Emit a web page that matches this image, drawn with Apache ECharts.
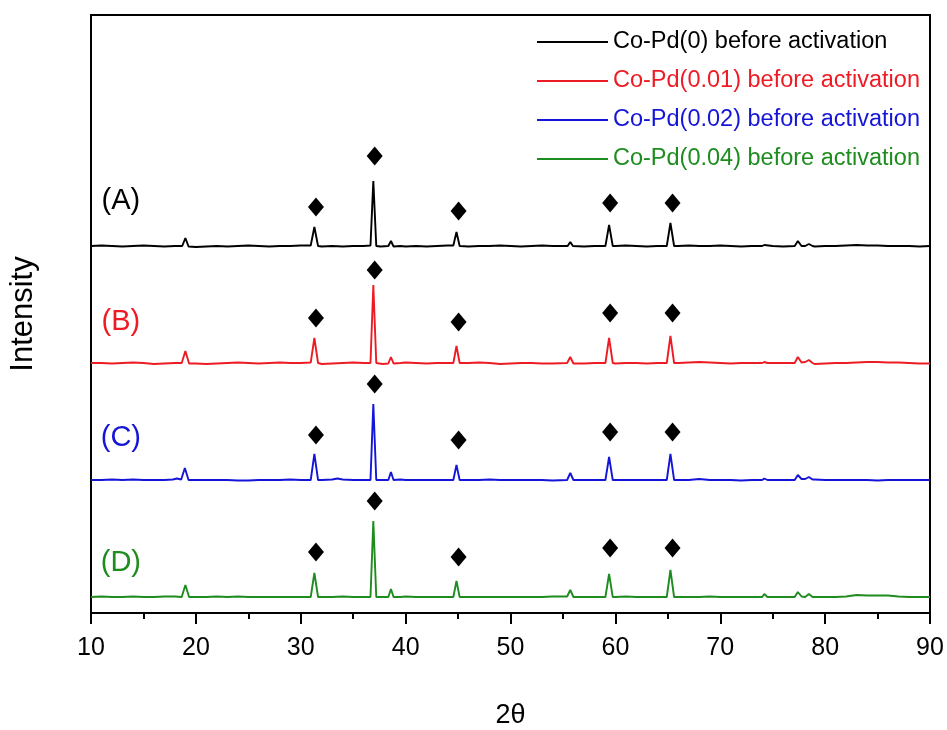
<!DOCTYPE html>
<html>
<head>
<meta charset="utf-8">
<script src="https://cdn.jsdelivr.net/npm/echarts@6/dist/echarts.min.js"></script>
<style>
  html, body { margin: 0; padding: 0; background: #fff; }
  #chart { width: 947px; height: 730px; }
</style>
</head>
<body>
<div id="chart"></div>
<script>
// XRD patterns, 2θ (deg) vs intensity (a.u.)
const names = [
  'Co-Pd(0) before activation',
  'Co-Pd(0.01) before activation',
  'Co-Pd(0.02) before activation',
  'Co-Pd(0.04) before activation'
];
const tags = ['(A)', '(B)', '(C)', '(D)'];
const colors = ['#000000', '#ed1c24', '#1515d8', '#1e8c1e'];
// vertical stacking of the patterns
const offsets = [351, 234, 117, 0];

const patternA = [[10,16],[11,16.5],[12,16],[13,15.5],[14,16],[15,16.5],[16,16],[17,15.5],[18,16],[18.7,16],[19.0,24],[19.3,15.5],[20,15],[21,15.5],[22,16],[23,15.5],[24,16],[25,16.5],[26,16],[27,15.5],[28,16],[29,16],[30,16.5],[30.95,16.5],[31.3,35],[31.65,16],[32,15.5],[33,16],[34,15.5],[35,16],[36,16],[36.65,16.5],[36.92,81],[37.2,16],[37.6,15.5],[38.35,16],[38.6,21],[38.85,15.5],[39.5,16],[40,15.5],[41,16],[42,15.5],[43,16],[44,16.5],[44.55,16.5],[44.85,30],[45.15,16],[46,15.5],[47,16],[48,16],[49,16.5],[50,16],[51,15.5],[52,16],[53,16.5],[54,16],[55,16],[55.45,16],[55.7,20],[55.95,16],[57,15.5],[58,16],[59.05,16],[59.4,37],[59.75,16],[60,16],[61,16.5],[62,16],[63,15.5],[64,16],[64.9,16],[65.25,39],[65.6,16],[66,16],[67,16.5],[68,16],[69,16],[70,16.5],[71,16],[72,15.5],[73,16],[74,16],[74.2,17],[75,16],[76,15.5],[77.1,16],[77.4,21],[77.75,16],[78.1,16],[78.45,18],[78.8,16],[79,15.5],[80,16],[81,16],[82,16.5],[83,17],[84,16.5],[85,16.5],[86,16],[87,16],[88,16],[89,15.5],[90,16]];

const patternB = [[10,16],[11,16],[12,15.5],[13,16],[14,16.5],[15,16],[16,15],[17,15.5],[18,16],[18.65,16],[19.0,28],[19.35,15.5],[20,15.5],[21,15],[22,15.5],[23,16],[24,16.5],[25,16],[26,15.5],[27,16],[28,16.5],[29,16],[30,16],[30.95,16.5],[31.3,41],[31.65,16],[32,15],[33,15.5],[34,16],[35,16.5],[36,16],[36.65,16],[36.92,94],[37.2,16],[37.8,15],[38.35,15.5],[38.6,22],[38.85,15.5],[39.5,16],[40,16.5],[41,16],[42,15.5],[43,16],[44,16],[44.55,16],[44.85,33],[45.15,16],[46,16],[47,16.5],[48,16],[49,15],[50,15.5],[51,16],[52,16],[53,15.5],[54,15.5],[55.4,16],[55.7,22],[56,15.5],[57,15.5],[58,16],[59.05,16],[59.4,41],[59.75,16],[60,15.5],[61,16],[62,16],[63,15.5],[64,16],[64.9,16],[65.25,43],[65.6,16],[66,16],[67,16.5],[68,17],[69,16.5],[70,16],[71,15.5],[72,16],[73,16],[74,16],[74.2,17],[74.5,16],[75,16],[76,16],[77.1,16],[77.4,22],[77.75,16.5],[78.1,17],[78.45,19],[78.8,16],[79,15],[80,15.5],[81,16],[82,16],[83,16.5],[84,17],[85,17],[86,16.5],[87,16.5],[88,16],[89,15.5],[90,15.5]];

const patternC = [[10,16],[11,16],[12,16.5],[13,16],[14,16.5],[15,16],[16,16],[17,16],[17.8,16.5],[18.2,17.5],[18.6,16.5],[18.95,28],[19.3,16],[20,16],[21,16],[22,16],[23,16],[24,15.5],[25,15.5],[26,16],[27,16],[28,16],[29,16.5],[30,16],[30.95,16],[31.3,42],[31.65,16],[32,16],[33,16.5],[33.5,17.5],[34,16.5],[35,16],[36,16],[36.65,16],[36.92,92],[37.2,16],[37.8,16],[38.35,16],[38.6,24],[38.85,16],[39.5,16.5],[40,16],[41,16],[42,16],[43,16],[44,16],[44.55,16],[44.85,31],[45.15,16],[46,16],[47,16],[48,16.5],[49,16],[50,16],[51,16],[52,16],[53,16],[54,15.5],[55.4,16],[55.7,23],[56,16],[57,16],[58,16],[59.05,16],[59.4,39],[59.75,16],[60,16],[61,16],[62,16],[63,16],[64,16],[64.9,16],[65.25,42],[65.6,16],[66,16],[67,16],[68,17],[69,16],[70,16],[71,16],[72,15.5],[73,16],[74,16],[74.2,17.5],[74.5,16],[75,16],[76,16],[77.1,16],[77.4,21],[77.75,17],[78.1,17],[78.45,19],[78.8,16.5],[79,16.5],[80,16],[81,16],[82,16],[83,16],[84,16],[85,15.5],[86,16],[87,16],[88,16],[89,16],[90,16]];

const patternD = [[10,16],[11,16.5],[12,16],[13,16],[14,16.5],[15,16],[16,16],[17,16.5],[18,16.5],[18.65,16],[19.0,28],[19.35,16],[20,16],[21,16],[22,16.5],[23,16],[24,16.5],[25,16],[26,16],[27,16],[28,16],[29,16],[30,16],[30.95,16],[31.3,40],[31.65,16],[32,16],[33,16],[34,16.5],[35,16],[36,16],[36.65,16],[36.92,92],[37.2,16],[37.8,16],[38.35,16],[38.6,24],[38.85,16],[39.5,16],[40,16.5],[41,16],[42,16],[43,16],[44,16],[44.55,16],[44.85,32],[45.15,16],[46,16],[47,16],[48,16],[49,16],[50,16],[51,16],[52,16],[53,16],[54,16.5],[55.4,16.5],[55.7,23],[56,16],[57,16],[58,16],[59.05,16],[59.4,39],[59.75,16],[60,16],[61,16.5],[62,16],[63,16],[64,16],[64.9,16],[65.25,43],[65.6,16],[66,16],[67,16],[68,16],[69,16.5],[70,16],[71,16],[72,16],[73,16],[74,16],[74.2,19],[74.5,16],[75,16],[76,16],[77.1,16],[77.4,21],[77.75,16.5],[78.1,16],[78.45,19],[78.8,16],[79,16],[80,16],[81,16],[82,16.5],[83,18],[84,17.5],[85,17.5],[86,17.5],[87,16.5],[88,16],[89,16],[90,16]];

const patterns = [patternA, patternB, patternC, patternD];

// reflection positions (2θ) marked with diamonds, and the marker heights for each pattern
const reflections = [31.45, 37.05, 45.05, 59.5, 65.45];
const markerHeights = [
  [55, 106, 51, 59, 59],
  [61, 109, 57, 66, 66],
  [61, 112, 56, 64, 64],
  [61, 112, 56, 65, 65]
];
// pattern tag anchors (2θ, intensity)
const tagX = 12.85;
const tagY = [61, 57, 58, 50];

const xTicks = { min: 10, max: 90, interval: 10 };

const chart = echarts.init(document.getElementById('chart'), null, { renderer: 'canvas' });

const FONT = 'Liberation Sans, Arial, sans-serif';

const lineSeries = patterns.map((p, i) => ({
  name: names[i],
  type: 'line',
  data: p.map(d => [d[0], d[1] + offsets[i]]),
  symbol: 'none',
  smooth: false,
  color: colors[i],
  lineStyle: { color: colors[i], width: 1.9 },
  z: 2,
  silent: true
}));

const markerData = [];
markerHeights.forEach((row, i) => {
  row.forEach((h, j) => markerData.push([reflections[j], h + offsets[i]]));
});

const tagData = tags.map((t, i) => ({
  value: [tagX, tagY[i] + offsets[i]],
  label: { formatter: t, color: colors[i] }
}));

chart.setOption({
  animation: false,
  backgroundColor: '#ffffff',
  textStyle: { fontFamily: FONT },
  grid: {
    left: 91, right: 17, top: 15, bottom: 117,
    outerBoundsMode: 'none',
    containLabel: false,
    show: true, borderColor: '#000', borderWidth: 2, backgroundColor: 'transparent'
  },
  legend: {
    data: names.map((n, i) => ({ name: n, textStyle: { color: colors[i] } })),
    orient: 'vertical',
    left: 532,
    top: 25,
    itemWidth: 71,
    itemHeight: 2,
    itemGap: 15,
    icon: 'rect',
    textStyle: { fontSize: 23.5, fontFamily: FONT, padding: [0, 0, 0, 0] },
    selectedMode: false
  },
  xAxis: {
    type: 'value',
    min: xTicks.min, max: xTicks.max, interval: xTicks.interval,
    name: '2θ',
    nameLocation: 'middle',
    nameGap: 89,
    nameTextStyle: { fontSize: 27, color: '#000', fontFamily: FONT },
    axisLine: { show: true, onZero: false, lineStyle: { color: '#000', width: 2 } },
    axisTick: { show: true, inside: false, length: 11, lineStyle: { color: '#000', width: 2 } },
    minorTick: { show: true, splitNumber: 2, length: 6, lineStyle: { color: '#000', width: 2 } },
    axisLabel: { fontSize: 25, color: '#000', margin: 23, fontFamily: FONT },
    splitLine: { show: false }
  },
  yAxis: {
    type: 'value',
    min: 0, max: 598,
    name: 'Intensity',
    nameLocation: 'middle',
    nameGap: 52,
    nameRotate: 90,
    nameTextStyle: { fontSize: 31, color: '#000', fontFamily: FONT },
    axisLine: { show: true, lineStyle: { color: '#000', width: 2 } },
    axisTick: { show: false },
    axisLabel: { show: false },
    splitLine: { show: false }
  },
  series: lineSeries.concat([
    {
      name: 'reflections',
      type: 'scatter',
      data: markerData,
      symbol: 'diamond',
      symbolSize: [16, 19],
      itemStyle: { color: '#000', opacity: 1 },
      z: 3,
      silent: true
    },
    {
      name: 'tags',
      type: 'scatter',
      data: tagData,
      symbolSize: 0,
      itemStyle: { opacity: 1 },
      label: { show: true, position: 'inside', fontSize: 29, fontFamily: FONT },
      z: 4,
      silent: true
    }
  ])
});
</script>
</body>
</html>
